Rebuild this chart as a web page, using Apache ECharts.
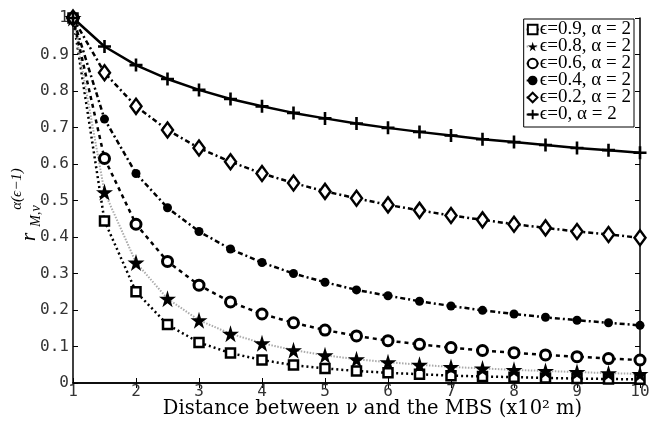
<!DOCTYPE html>
<html>
<head>
<meta charset="utf-8">
<script src="https://cdn.jsdelivr.net/npm/echarts@6/dist/echarts.min.js"></script>
<style>
  html, body { margin: 0; padding: 0; background: #fff; }
  #chart { width: 658px; height: 425px; }
</style>
</head>
<body>
<div id="chart"></div>
<script>
// distance (x10^2 m)
var distance = [1, 1.5, 2, 2.5, 3, 3.5, 4, 4.5, 5, 5.5, 6, 6.5, 7, 7.5, 8, 8.5, 9, 9.5, 10];

// values, one array per curve
var eps09 = [1, 0.444, 0.25, 0.16, 0.111, 0.082, 0.063, 0.049, 0.04, 0.033, 0.028, 0.024, 0.02, 0.018, 0.016, 0.014, 0.012, 0.011, 0.01];
var eps08 = [1, 0.523, 0.33, 0.231, 0.172, 0.135, 0.109, 0.09, 0.076, 0.065, 0.057, 0.05, 0.044, 0.04, 0.036, 0.033, 0.03, 0.027, 0.025];
var eps06 = [1, 0.615, 0.435, 0.333, 0.268, 0.222, 0.189, 0.165, 0.145, 0.129, 0.116, 0.106, 0.097, 0.089, 0.083, 0.077, 0.072, 0.067, 0.063];
var eps04 = [1, 0.723, 0.574, 0.48, 0.415, 0.367, 0.33, 0.3, 0.276, 0.255, 0.239, 0.224, 0.211, 0.199, 0.189, 0.18, 0.172, 0.165, 0.158];
var eps02 = [1, 0.85, 0.758, 0.693, 0.644, 0.606, 0.574, 0.548, 0.525, 0.506, 0.488, 0.473, 0.459, 0.447, 0.435, 0.425, 0.415, 0.407, 0.398];
var eps00 = [1, 0.922, 0.871, 0.833, 0.803, 0.778, 0.758, 0.74, 0.725, 0.711, 0.699, 0.688, 0.678, 0.668, 0.66, 0.652, 0.644, 0.638, 0.631];

var names = ['\u03f5=0.9, \u03b1 = 2', '\u03f5=0.8, \u03b1 = 2', '\u03f5=0.6, \u03b1 = 2',
             '\u03f5=0.4, \u03b1 = 2', '\u03f5=0.2, \u03b1 = 2', '\u03f5=0, \u03b1 = 2'];

var starPath = 'path://M50,0 L61,35 L98,35 L68,57 L79,91 L50,70 L21,91 L32,57 L2,35 L39,35 Z';
var plusPath = 'path://M4,0 H6 V4 H10 V6 H6 V10 H4 V6 H0 V4 H4 Z';
var dashDot = [5, 3, 2, 3];

function pairs(ys) {
    return distance.map((x, i) => [x, ys[i]]);
}

var serif = '"Liberation Serif", "DejaVu Serif", serif';
var wideSerif = '"DejaVu Serif", serif';
var tickFont = { fontFamily: '"DejaVu Sans Mono", monospace', fontSize: 16, color: '#333' };

var chart = echarts.init(document.getElementById('chart'), null, { renderer: 'canvas' });

var option = {
    backgroundColor: '#fff',
    animation: false,
    grid: { left: 73, right: 18, top: 18, bottom: 42, outerBoundsMode: 'none' },
    legend: {
        orient: 'vertical',
        right: 24,
        top: 19,
        backgroundColor: '#fff',
        borderColor: '#000',
        borderWidth: 1,
        padding: [1, 3, 3, 2],
        itemGap: -2,
        itemWidth: 12,
        itemHeight: 12,
        textStyle: { fontFamily: serif, fontSize: 19, color: '#000', padding: [0, 0, 0, -4] },
        data: names
    },
    xAxis: [{
        type: 'value',
        min: 1, max: 10, interval: 1,
        name: 'Distance between \u03bd and the MBS (x10\u00b2 m)',
        nameLocation: 'middle',
        nameGap: 16,
        nameMoveOverlap: false,
        nameTextStyle: { fontFamily: wideSerif, fontSize: 19.5, color: '#000', padding: [0, 0, 0, 32] },
        axisLine: { lineStyle: { color: '#000', width: 1.5 } },
        axisTick: { inside: true, length: 5, lineStyle: { color: '#000' } },
        axisLabel: Object.assign({ margin: 1 }, tickFont),
        splitLine: { show: false }
    }, {
        type: 'value', position: 'top',
        min: 1, max: 10, interval: 1,
        axisLine: { lineStyle: { color: '#000', width: 1.5 } },
        axisTick: { inside: true, length: 5, lineStyle: { color: '#000' } },
        axisLabel: { show: false },
        splitLine: { show: false }
    }],
    yAxis: [{
        type: 'value',
        min: 0, max: 1, interval: 0.1,
        axisLine: { lineStyle: { color: '#000', width: 1.5 } },
        axisTick: { inside: true, length: 5, lineStyle: { color: '#000' } },
        axisLabel: Object.assign({ margin: 4, formatter: v => String(+v.toFixed(1)) }, tickFont),
        splitLine: { show: false }
    }, {
        type: 'value', position: 'right',
        min: 0, max: 1, interval: 0.1,
        axisLine: { lineStyle: { color: '#000', width: 1.5 } },
        axisTick: { inside: true, length: 5, lineStyle: { color: '#000' } },
        axisLabel: { show: false },
        splitLine: { show: false }
    }],
    // rotated y title: r with superscript and subscript
    graphic: [{
        type: 'text', x: 29, y: 237, rotation: Math.PI / 2,
        style: { text: 'r', font: 'italic 22px ' + serif, fill: '#000', align: 'center', verticalAlign: 'middle' }
    }, {
        type: 'text', x: 17, y: 189, rotation: Math.PI / 2,
        style: { text: '\u03b1(\u03f5\u22121)', font: 'italic 15px ' + serif, fill: '#000', align: 'center', verticalAlign: 'middle' }
    }, {
        type: 'text', x: 36, y: 216, rotation: Math.PI / 2,
        style: { text: 'M,\u03bd', font: 'italic 14px ' + serif, fill: '#000', align: 'center', verticalAlign: 'middle' }
    }],
    series: [{
        name: names[0], type: 'line', data: pairs(eps09),
        symbol: 'rect', symbolSize: 9,
        itemStyle: { color: '#fff', borderColor: '#000', borderWidth: 2.5 },
        lineStyle: { color: '#000', width: 2.5, type: [2, 3] }
    }, {
        name: names[1], type: 'line', data: pairs(eps08),
        symbol: starPath, symbolSize: 17,
        itemStyle: { color: '#000' },
        lineStyle: { color: '#aaa', width: 2, type: [1.5, 1.5] }
    }, {
        name: names[2], type: 'line', data: pairs(eps06),
        symbol: 'circle', symbolSize: 10,
        itemStyle: { color: '#fff', borderColor: '#000', borderWidth: 3 },
        lineStyle: { color: '#000', width: 2.5, type: [4, 4] }
    }, {
        name: names[3], type: 'line', data: pairs(eps04),
        symbol: 'circle', symbolSize: 9,
        itemStyle: { color: '#000' },
        lineStyle: { color: '#000', width: 2.5, type: dashDot }
    }, {
        name: names[4], type: 'line', data: pairs(eps02),
        symbol: 'diamond', symbolSize: [11, 15],
        itemStyle: { color: '#fff', borderColor: '#000', borderWidth: 2.5 },
        lineStyle: { color: '#000', width: 2.5, type: dashDot }
    }, {
        name: names[5], type: 'line', data: pairs(eps00),
        symbol: plusPath, symbolSize: 13,
        itemStyle: { color: '#000' },
        lineStyle: { color: '#000', width: 2.5 }
    }]
};

option && chart.setOption(option);
</script>
</body>
</html>
